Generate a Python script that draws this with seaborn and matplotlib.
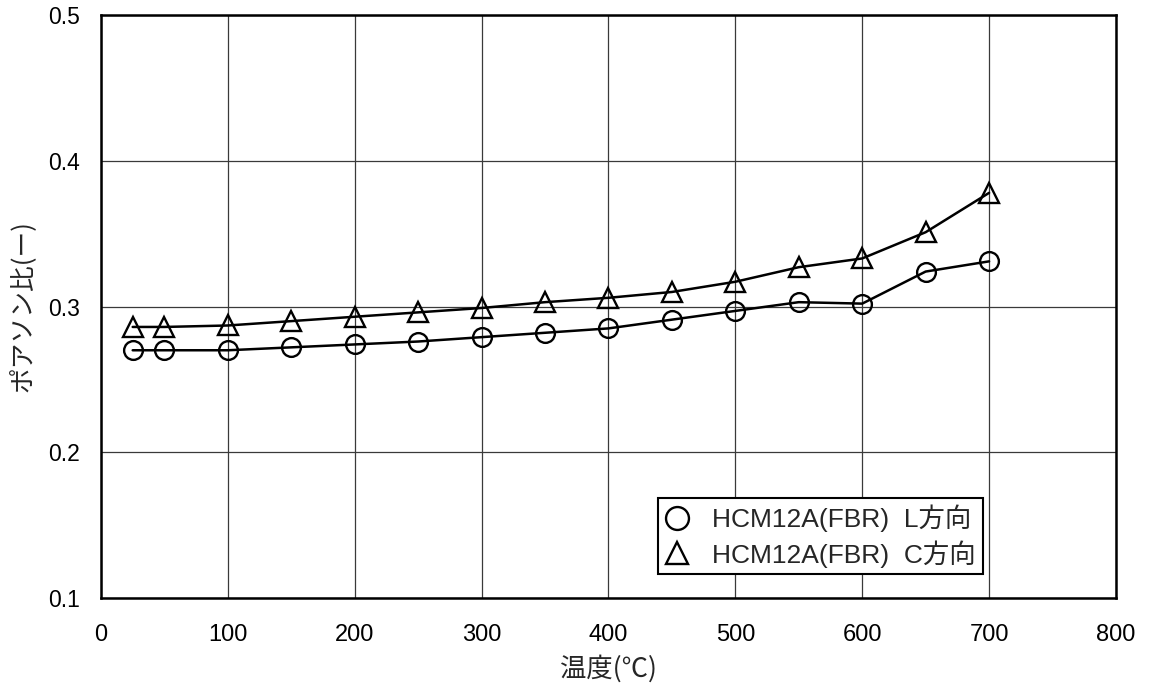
import matplotlib
matplotlib.use("Agg")
import matplotlib.pyplot as plt
from matplotlib.lines import Line2D
import seaborn as sns

# Temperature (°C) and Poisson's ratio for HCM12A (FBR), L and C directions
temps = [25, 50, 100, 150, 200, 250, 300, 350, 400, 450, 500, 550, 600, 650, 700]
poisson_L = [0.270, 0.270, 0.270, 0.272, 0.274, 0.276, 0.279, 0.282, 0.285,
             0.291, 0.297, 0.303, 0.302, 0.324, 0.331]
poisson_C = [0.286, 0.286, 0.287, 0.290, 0.293, 0.296, 0.299, 0.303, 0.306,
             0.310, 0.317, 0.327, 0.333, 0.351, 0.378]
series_labels = ["HCM12A(FBR)  L方向", "HCM12A(FBR)  C方向"]
x_ticks = [0, 100, 200, 300, 400, 500, 600, 700, 800]
y_ticks = [0.1, 0.2, 0.3, 0.4, 0.5]

sns.set_style("white")
plt.rcParams["font.family"] = ["Noto Sans CJK JP", "DejaVu Sans"]
latin_cjk = ["Liberation Sans", "Noto Sans CJK JP"]

fig = plt.figure(figsize=(11.5, 6.87), dpi=100)
ax = fig.add_axes([0.0878, 0.1295, 0.8826, 0.8486])

line_kw = dict(color="black", linewidth=1.8, markerfacecolor="none",
               markeredgecolor="black", markeredgewidth=1.7)
sns.lineplot(x=temps, y=poisson_L, ax=ax, marker="o", markersize=13.5,
             legend=False, **line_kw)
sns.lineplot(x=temps, y=poisson_C, ax=ax, marker="^", markersize=15,
             legend=False, **line_kw)

ax.set_xlim(0, 800)
ax.set_ylim(0.1, 0.5)
ax.set_xticks(x_ticks)
ax.set_yticks(y_ticks)
ax.set_xticklabels([str(v) for v in x_ticks], family="Liberation Sans", fontsize=17)
ax.set_yticklabels([f"{v:.1f}" for v in y_ticks], family="Liberation Sans", fontsize=16.5)
ax.tick_params(axis="both", length=0, colors="black")
ax.tick_params(axis="x", pad=19)
ax.tick_params(axis="y", pad=15)

ax.grid(True, color="#3a3a3a", linewidth=0.9)
ax.set_axisbelow(True)
for side, spine in ax.spines.items():
    spine.set_visible(True)
    spine.set_color("black")
    spine.set_linewidth(1.8)

ax.set_xlabel("温度(℃)", fontsize=19, labelpad=6)
ax.set_ylabel("ポアソン比(ー)", fontsize=18.5, labelpad=9)

handles = [
    Line2D([], [], linestyle="none", marker="o", markersize=16.5,
           markerfacecolor="none", markeredgecolor="black", markeredgewidth=1.7),
    Line2D([], [], linestyle="none", marker="^", markersize=16.5,
           markerfacecolor="none", markeredgecolor="black", markeredgewidth=1.7),
]
leg = ax.legend(handles, series_labels, loc="lower left",
                bbox_to_anchor=(0.549, 0.041), borderaxespad=0,
                prop={"family": latin_cjk, "size": 19},
                frameon=True, fancybox=False, framealpha=1,
                edgecolor="black", handlelength=0.9, handletextpad=0.9,
                borderpad=0.25, labelspacing=0.3)
leg.get_frame().set_linewidth(1.5)

fig.savefig("out.png", dpi=100, facecolor="white")
